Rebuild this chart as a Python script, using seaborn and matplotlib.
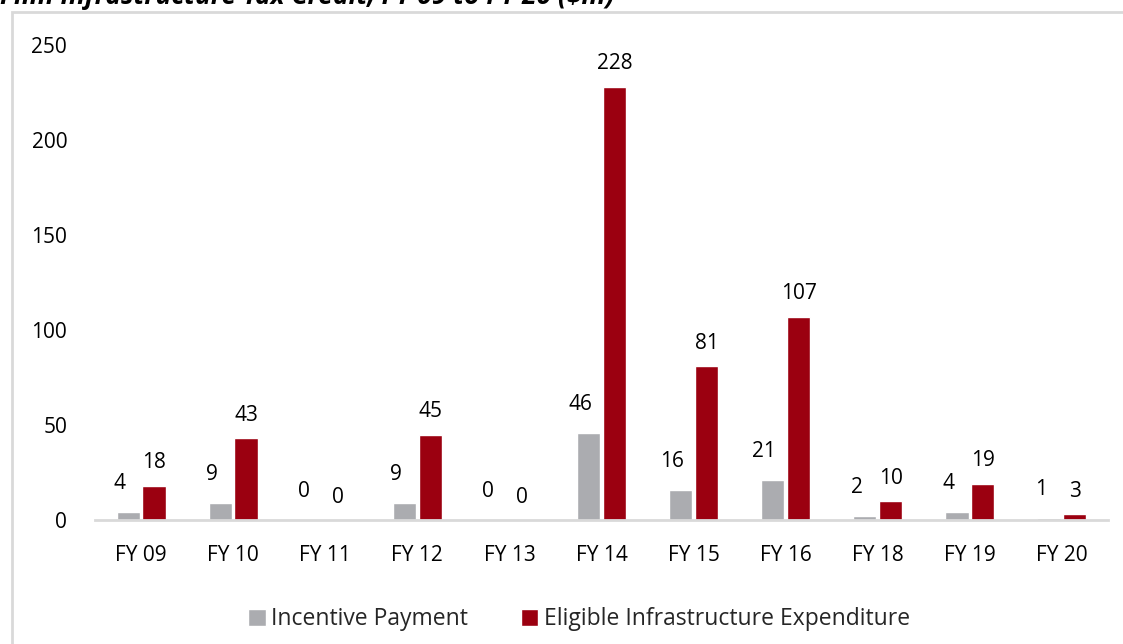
import matplotlib
matplotlib.use("Agg")
import matplotlib.pyplot as plt
import seaborn as sns
import pandas as pd
from matplotlib.patches import Rectangle

categories = ["FY 09", "FY 10", "FY 11", "FY 12", "FY 13", "FY 14", "FY 15", "FY 16", "FY 18", "FY 19", "FY 20"]
incentive = [4, 9, 0, 9, 0, 46, 16, 21, 2, 4, 1]
eligible = [18, 43, 0, 45, 0, 228, 81, 107, 10, 19, 3]
series_names = ["Incentive Payment", "Eligible Infrastructure Expenditure"]
yticks = [0, 50, 100, 150, 200, 250]
title = "Film Infrastructure Tax Credit, FY 09 to FY 20 ($m)"

df = pd.DataFrame({
    "cat": categories * 2,
    "val": incentive + eligible,
    "series": [series_names[0]] * len(categories) + [series_names[1]] * len(categories),
})

sns.set_theme(style="white")
plt.rcParams["font.family"] = ["Open Sans", "DejaVu Sans"]

fig = plt.figure(figsize=(11.23, 6.44), dpi=100)
ax = fig.add_axes([0.0846, 0.1925, 0.902, 0.7375])

colors = ["#ABACB0", "#9B0010"]
sns.barplot(data=df, x="cat", y="val", hue="series", palette=colors,
            width=0.56, gap=0.1, ax=ax, legend=True, saturation=1)

ax.set_ylim(0, 250)
ax.set_yticks(yticks)
ax.set_xlabel("")
ax.set_ylabel("")
for s in ["top", "right", "left"]:
    ax.spines[s].set_visible(False)
ax.spines["bottom"].set_color("#D9D9D9")
ax.spines["bottom"].set_linewidth(2)
ax.tick_params(axis="y", length=0, pad=20, labelsize=15, labelcolor="#000000")
ax.tick_params(axis="x", length=0, pad=18, labelsize=15, labelcolor="#000000")
ax.set_xlim(-0.5, len(categories) - 0.5)

# value labels
for ci, container in enumerate(ax.containers):
    for rect, v in zip(container, [incentive, eligible][ci]):
        cx = rect.get_x() + rect.get_width() / 2
        dx = -6 if ci == 0 else 0
        ax.annotate(f"{v:g}", (cx, v), xytext=(dx, 13 if ci == 0 else 9),
                    textcoords="offset points", ha="center", va="bottom",
                    fontsize=15, color="#000000")

leg = ax.legend(loc="upper center", bbox_to_anchor=(0.478, -0.14), ncol=2, frameon=False,
                fontsize=16.5, handlelength=0.75, handleheight=0.75, handletextpad=0.25,
                columnspacing=2.3)

# border frame
fig.patches.append(Rectangle((12 / 1123, -0.05), 1.2, 1 - 12 / 644 + 0.05,
                             transform=fig.transFigure, fill=False,
                             edgecolor="#D9D9D9", linewidth=2, zorder=0))

# title, clipped at the top edge as in the reference
fig.text(0.0, 1.0 + 3 / 644, title, ha="left", va="center", fontsize=19,
         fontweight="bold", fontstyle="italic", color="#000000")

fig.savefig("out.png", dpi=100)
